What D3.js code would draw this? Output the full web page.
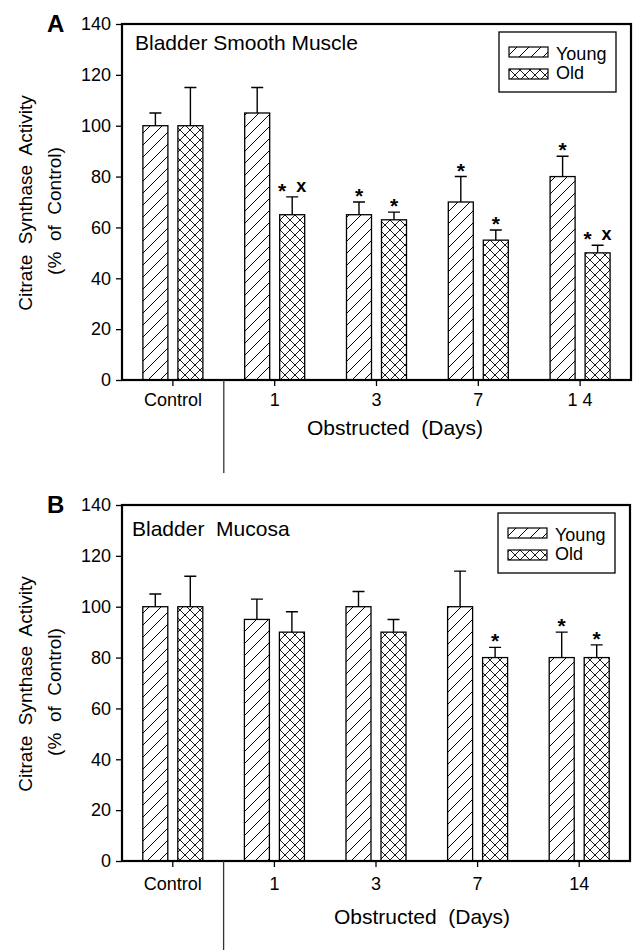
<!DOCTYPE html>
<html>
<head>
<meta charset="utf-8">
<script src="https://cdn.jsdelivr.net/npm/d3@7"></script>
<style>
body { margin: 0; background: #fff; }
svg { display: block; font-family: "Liberation Sans", Arial, sans-serif; }
</style>
</head>
<body>
<div id="chart"></div>
<script>
// data
const groups = ["Control", "1", "3", "7", "14"];
const series = ["Young", "Old"];
const yTicks = [0, 20, 40, 60, 80, 100, 120, 140];

const tickLabelsA = ["Control", "1", "3", "7", "1 4"];
const youngA = [100, 105, 65, 70, 80];
const youngErrA = [5, 10, 5, 10, 8];
const oldA = [100, 65, 63, 55, 50];
const oldErrA = [15, 7, 3, 4, 3];
const youngSigA = ["", "", "*", "*", "*"];
const oldSigA = ["", "* x", "*", "*", "* x"];

const tickLabelsB = ["Control", "1", "3", "7", "14"];
const youngB = [100, 95, 100, 100, 80];
const youngErrB = [5, 8, 6, 14, 10];
const oldB = [100, 90, 90, 80, 80];
const oldErrB = [12, 8, 5, 4, 5];
const youngSigB = ["", "", "", "", "*"];
const oldSigB = ["", "", "", "*", "*"];

const W = 634, H = 950;
const svg = d3.select("#chart").append("svg")
    .attr("width", W)
    .attr("height", H);

// hatch patterns
const defs = svg.append("defs");
const hatch = defs.append("pattern")
    .attr("id", "hatch")
    .attr("patternUnits", "userSpaceOnUse")
    .attr("width", 12)
    .attr("height", 12);
hatch.append("path")
    .attr("d", "M-3,3 L3,-3 M0,12 L12,0 M9,15 L15,9")
    .attr("stroke", "#000")
    .attr("stroke-width", 1);
const cross = defs.append("pattern")
    .attr("id", "cross")
    .attr("patternUnits", "userSpaceOnUse")
    .attr("width", 10)
    .attr("height", 10);
cross.append("path")
    .attr("d", "M0,0 L10,10 M10,0 L0,10")
    .attr("stroke", "#000")
    .attr("stroke-width", 0.9);
const fills = { Young: "url(#hatch)", Old: "url(#cross)" };

function drawPanel(p) {
    const g = svg.append("g");

    const x = d3.scaleBand()
        .domain(groups)
        .range([p.left, p.right])
        .padding(0);
    const x1 = d3.scaleBand()
        .domain(series)
        .range([-30, 30])
        .paddingInner(10 / 35);
    const y = d3.scaleLinear()
        .domain([0, 140])
        .range([p.bottom, p.top]);

    const cx = d => x(d) + x.bandwidth() / 2;

    // y axis
    const ya = g.append("g")
        .attr("transform", `translate(${p.left},0)`)
        .call(d3.axisLeft(y).tickValues(yTicks).tickSize(6).tickPadding(5));
    ya.select(".domain").remove();
    ya.selectAll("line").attr("stroke-width", 1.3);
    ya.selectAll("text").attr("font-size", 18).attr("font-family", null).attr("fill", "#000");

    // x axis
    const xa = g.append("g")
        .attr("transform", `translate(0,${p.bottom})`)
        .call(d3.axisBottom(x).tickSize(6).tickPadding(p.xPad).tickFormat((d, i) => p.labels[i]));
    xa.select(".domain").remove();
    xa.selectAll("line").attr("stroke-width", 1.3);
    xa.selectAll("text").attr("font-size", 18).attr("font-family", null).attr("fill", "#000")
        .style("white-space", "pre");

    // bars
    const rows = [];
    groups.forEach((grp, i) => {
        rows.push({ grp, s: "Young", v: p.young[i], e: p.youngErr[i], sig: p.youngSig[i] });
        rows.push({ grp, s: "Old", v: p.old[i], e: p.oldErr[i], sig: p.oldSig[i] });
    });

    g.selectAll(".bar")
        .data(rows)
        .enter()
        .append("rect")
        .attr("class", "bar")
        .attr("x", d => cx(d.grp) + x1(d.s))
        .attr("width", x1.bandwidth())
        .attr("y", d => y(d.v))
        .attr("height", d => y(0) - y(d.v))
        .attr("fill", d => fills[d.s])
        .attr("stroke", "#000")
        .attr("stroke-width", 1.3);

    // error bars (upper only)
    const bc = d => cx(d.grp) + x1(d.s) + x1.bandwidth() / 2;
    g.selectAll(".err")
        .data(rows)
        .enter()
        .append("path")
        .attr("class", "err")
        .attr("d", d => `M${bc(d)},${y(d.v)} V${y(d.v + d.e)} M${bc(d) - 6},${y(d.v + d.e)} H${bc(d) + 6}`)
        .attr("fill", "none")
        .attr("stroke", "#000")
        .attr("stroke-width", 1.4);

    // significance marks
    rows.filter(d => d.sig).forEach(d => {
        const parts = d.sig.split(" ");
        const top = y(d.v + d.e);
        const sx = parts.length === 1 ? bc(d) : bc(d) - 10;
        g.append("text").attr("x", sx).attr("y", top + 1)
            .attr("text-anchor", "middle").attr("font-size", 21).attr("font-weight", "bold")
            .text(parts[0]);
        if (parts.length > 1) {
            g.append("text").attr("x", bc(d) + 9).attr("y", top - 5)
                .attr("text-anchor", "middle").attr("font-size", 18).attr("font-weight", "bold")
                .text(parts[1]);
        }
    });

    // frame
    g.append("rect")
        .attr("x", p.left)
        .attr("y", p.top)
        .attr("width", p.right - p.left)
        .attr("height", p.bottom - p.top)
        .attr("fill", "none")
        .attr("stroke", "#000")
        .attr("stroke-width", 2.2);

    // separator between control and obstructed
    g.append("line")
        .attr("x1", x(groups[1])).attr("x2", x(groups[1]))
        .attr("y1", p.bottom).attr("y2", p.bottom + 93)
        .attr("stroke", "#333")
        .attr("stroke-width", 1.3);

    // titles
    g.append("text")
        .attr("x", p.left + p.titleDx)
        .attr("y", p.top + p.titleDy)
        .attr("font-size", 21)
        .style("white-space", "pre")
        .text(p.title);

    g.append("text")
        .attr("x", 47)
        .attr("y", p.top + 8)
        .attr("font-size", 24)
        .attr("font-weight", "bold")
        .text(p.letter);

    g.append("text")
        .attr("x", p.xTitleX)
        .attr("y", p.bottom + p.xTitleDy)
        .attr("text-anchor", "middle")
        .attr("font-size", 21)
        .style("white-space", "pre")
        .text("Obstructed  (Days)");

    const mid = (p.top + p.bottom) / 2;
    g.append("text")
        .attr("transform", `translate(32,${mid + 1}) rotate(-90)`)
        .attr("text-anchor", "middle")
        .attr("font-size", 19)
        .style("white-space", "pre")
        .text("Citrate  Synthase  Activity");
    g.append("text")
        .attr("transform", `translate(61,${mid + 9}) rotate(-90)`)
        .attr("text-anchor", "middle")
        .attr("font-size", 19)
        .style("white-space", "pre")
        .text("(%  of  Control)");

    // legend
    const lx = p.right - 132, ly = p.top + 8;
    const lg = g.append("g");
    lg.append("rect")
        .attr("x", lx).attr("y", ly)
        .attr("width", 117).attr("height", 60)
        .attr("fill", "#fff")
        .attr("stroke", "#000")
        .attr("stroke-width", 1.3);
    series.forEach((s, i) => {
        lg.append("rect")
            .attr("x", lx + 10).attr("y", ly + 15 + i * 22)
            .attr("width", 39).attr("height", 10)
            .attr("fill", fills[s])
            .attr("stroke", "#000")
            .attr("stroke-width", 1.2);
        lg.append("text")
            .attr("x", lx + 57).attr("y", ly + 28 + i * 19)
            .attr("font-size", 18)
            .text(s);
    });
}

drawPanel({
    letter: "A", title: "Bladder Smooth Muscle",
    left: 122, right: 631, top: 24, bottom: 380,
    labels: tickLabelsA, young: youngA, youngErr: youngErrA, old: oldA, oldErr: oldErrA,
    youngSig: youngSigA, oldSig: oldSigA,
    xPad: 7, titleDx: 13, titleDy: 26, xTitleX: 395, xTitleDy: 55
});

drawPanel({
    letter: "B", title: "Bladder  Mucosa",
    left: 122, right: 630, top: 505, bottom: 861,
    labels: tickLabelsB, young: youngB, youngErr: youngErrB, old: oldB, oldErr: oldErrB,
    youngSig: youngSigB, oldSig: oldSigB,
    xPad: 10, titleDx: 10, titleDy: 31, xTitleX: 422, xTitleDy: 63
});
</script>
</body>
</html>
